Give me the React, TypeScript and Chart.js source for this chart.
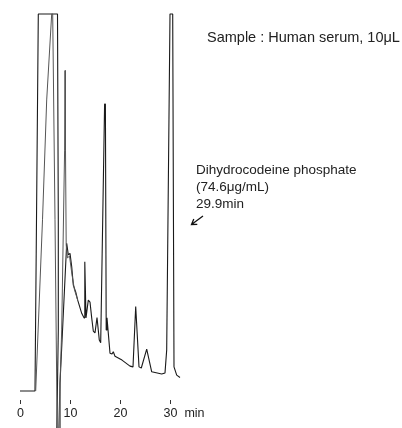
import React, { useEffect, useRef } from "react";
import { Chart, registerables } from "chart.js";

Chart.register(...registerables);

// Retention time (min) and detector response (% of full scale; 100 = recorder clip)
const timeA = [
  0, 3.0, 3.66, 7.5, 7.66, 7.66, 7.34, 7.9, 8.0, 9.34, 9.66, 10.0, 10.34, 10.66, 11.14,
  11.54, 12.34, 12.8, 12.96, 13.2, 13.66, 14.0, 14.34, 14.66, 15.0, 15.4, 15.86, 16.14,
  16.92, 17.08, 17.24, 17.4, 18.0, 18.4, 18.66, 19.0, 20.4, 22.0, 22.6, 23.14, 23.8,
  24.26, 25.34, 26.34, 28.34, 29.0, 29.34, 30.0, 30.54, 30.8, 31.34, 32.0,
];
const signalA = [
  0, 0, 100, 100, 45.4, 16.2, -13, -13, 2.1, 39.2, 36.1, 36.5, 33.0, 28.1, 26.3,
  24.1, 20.6, 19.4, 34.3, 19.4, 24.1, 23.6, 19.4, 15.9, 15.4, 19.5, 13.5, 12.8,
  76.1, 76.1, 16.2, 19.4, 10.0, 9.8, 10.4, 9.2, 8.2, 6.6, 6.4, 22.4, 6.4,
  6.1, 11.1, 5.1, 4.5, 4.8, 10.9, 100, 100, 6.4, 4.2, 3.6,
];

const timeB = [
  3.14, 4.5, 5.34, 6.34, 6.54, 7.0, 7.46, 7.66, 8.34, 8.92, 9.0, 9.1, 9.24, 9.5, 9.9,
  10.4, 10.9, 11.54,
];
const signalB = [
  0, 45.4, 77.2, 100, 100, 45.4, -13, -13, 16.2, 63.9, 85.0, 63.9, 38.7, 35.3, 35.8,
  30.8, 26.8, 24.1,
];

const tickValues = [0, 10, 20, 30];
const tickLabels = ["0", "10", "20", "30"];
const axisUnit = "min";

const sampleText = "Sample : Human serum, 10μL";
const peakLines = ["Dihydrocodeine phosphate", "(74.6μg/mL)", "29.9min"];

const FONT = '"Liberation Sans", Arial, Helvetica, sans-serif';

const overlayPlugin = {
  id: "overlay",
  afterDraw(chart: any) {
    const ctx = chart.ctx as CanvasRenderingContext2D;
    const xs = chart.scales.x;
    ctx.save();
    // x axis ticks and labels
    ctx.strokeStyle = "#333";
    ctx.lineWidth = 1;
    ctx.fillStyle = "#222";
    ctx.font = `12.5px ${FONT}`;
    ctx.textAlign = "center";
    ctx.textBaseline = "alphabetic";
    let lastX = 0;
    tickValues.forEach((v, i) => {
      const x = Math.round(xs.getPixelForValue(v)) + 0.5;
      ctx.beginPath();
      ctx.moveTo(x, 400);
      ctx.lineTo(x, 404);
      ctx.stroke();
      ctx.fillText(tickLabels[i], x, 417);
      lastX = x;
    });
    ctx.fillText(axisUnit, lastX + 24, 417);

    // annotations
    ctx.textAlign = "left";
    ctx.font = `14.5px ${FONT}`;
    ctx.fillText(sampleText, 207, 42);
    ctx.font = `13.5px ${FONT}`;
    peakLines.forEach((t, i) => ctx.fillText(t, 196, 173.5 + i * 17));

    // arrow
    ctx.strokeStyle = "#111";
    ctx.lineWidth = 1.3;
    ctx.beginPath();
    ctx.moveTo(203, 216);
    ctx.lineTo(191.5, 224.5);
    ctx.moveTo(193.8, 219);
    ctx.lineTo(191.5, 224.5);
    ctx.lineTo(197.3, 224.3);
    ctx.stroke();
    ctx.restore();
  },
};

export default function App() {
  const ref = useRef<HTMLCanvasElement | null>(null);
  useEffect(() => {
    if (!ref.current) return;
    const chart = new Chart(ref.current, {
      type: "line",
      data: {
        datasets: [
          {
            label: "B",
            data: timeB.map((t, i) => ({ x: t, y: signalB[i] })),
            borderColor: "#555",
            borderWidth: 1,
            pointRadius: 0,
            fill: false,
            tension: 0,
            borderJoinStyle: "bevel",
          },
          {
            label: "A",
            data: timeA.map((t, i) => ({ x: t, y: signalA[i] })),
            borderColor: "#1a1a1a",
            borderWidth: 1.1,
            pointRadius: 0,
            fill: false,
            tension: 0,
            borderJoinStyle: "bevel",
          },
        ],
      },
      options: {
        responsive: false,
        animation: false,
        devicePixelRatio: 1,
        layout: { padding: 0 },
        scales: {
          x: { type: "linear", min: -4, max: 76.4, display: false },
          y: { type: "linear", min: -9.814, max: 103.71, display: false },
        },
        plugins: { legend: { display: false }, tooltip: { enabled: false } },
      },
      plugins: [overlayPlugin],
    } as any);
    return () => chart.destroy();
  }, []);
  return (
    <div style={{ position: "fixed", left: 0, top: 0, width: 402, height: 428, background: "#fff" }}>
      <canvas ref={ref} width={402} height={428} />
    </div>
  );
}
